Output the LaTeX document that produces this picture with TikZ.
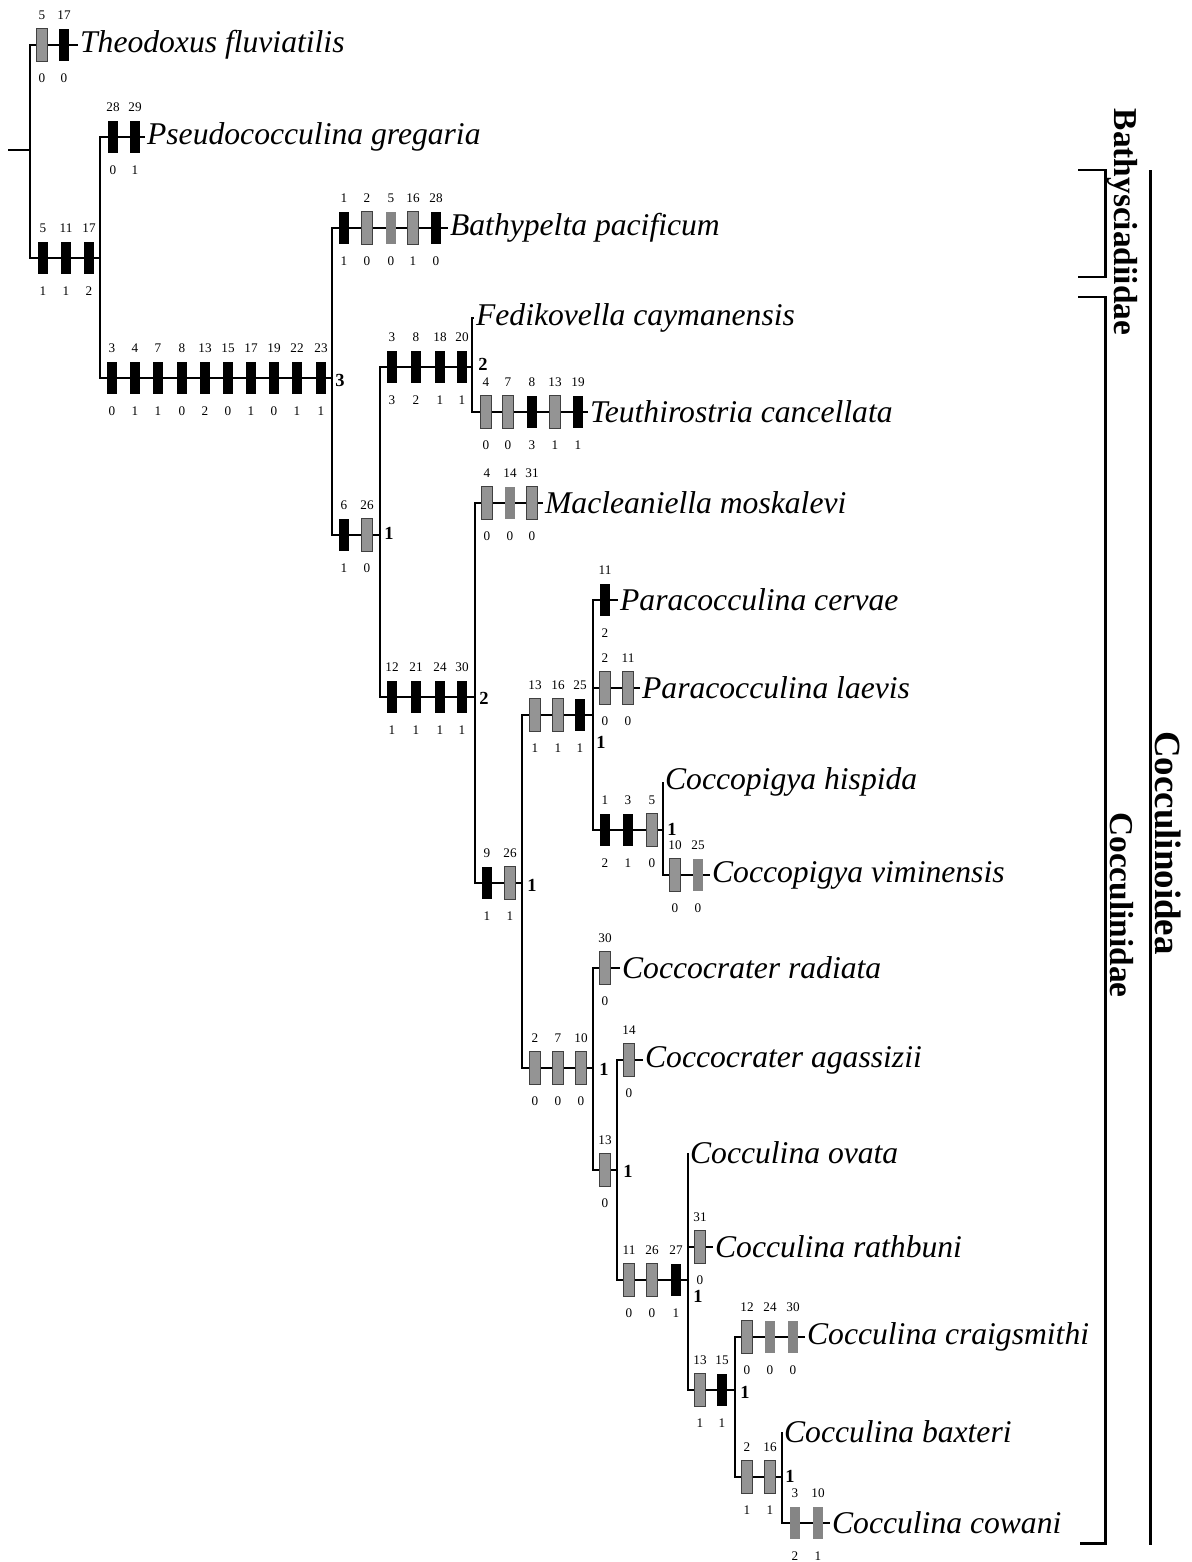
\documentclass[tikz,border=0pt]{standalone}
\usepackage{fontspec}
\setmainfont{Liberation Serif}
\tikzset{
  blk/.style={rectangle,fill=black,minimum width=5.8pt,minimum height=18.7pt,inner sep=0pt},
  gry/.style={blk,fill=black!42,draw=black!75,line width=0.5pt},
  pgry/.style={blk,fill=black!48},
  num/.style={font=\fontsize{7.5}{8}\selectfont,inner sep=0pt},
  taxon/.style={font=\fontsize{18}{20}\selectfont\itshape,anchor=west,inner sep=1pt},
  supp/.style={font=\fontsize{10.5}{12}\selectfont\bfseries,inner sep=0pt},
  grp/.style={font=\fontsize{19}{22}\selectfont\bfseries,rotate=-90,inner sep=0pt},
  br/.style={line width=0.8pt},
  brk/.style={line width=1.7pt}
}
% bars on a branch: name, y, list of x/above/below/style
\newcommand{\apom}[3]{%
  \foreach \x/\t/\b/\s [count=\i] in {#3} {
    \node[\s] (#1-\i) at (\x,#2) {};
    \node[num] (#1-\i t) at (\x,{#2-30}) {\t};
    \node[num] (#1-\i b) at (\x,{#2+33}) {\b};
  }}
\begin{document}
\begin{tikzpicture}[x=0.02cm,y=-0.02cm]
  \useasboundingbox (0,0) rectangle (1192,1562);
  % internal nodes
  \coordinate (root) at (8,150);
  \coordinate (n0) at (30,150);
  \coordinate (c1) at (100,258);
  \coordinate (c2) at (332,378);
  \coordinate (c3) at (380,535);
  \coordinate (c4) at (472,367);
  \coordinate (c5) at (475,697);
  \coordinate (c6) at (522,883);
  \coordinate (c7) at (593,715);
  \coordinate (c8) at (593,1068);
  \coordinate (c9) at (663,830);
  \coordinate (c10) at (617,1170);
  \coordinate (c11) at (688,1280);
  \coordinate (c12) at (735,1390);
  \coordinate (c13) at (782,1477);
  % taxa
  \node[taxon] (theo) at (78,45) {Theodoxus fluviatilis};
  \node[taxon] (pseu) at (145,137) {Pseudococculina gregaria};
  \node[taxon] (bath) at (448,228) {Bathypelta pacificum};
  \node[taxon] (fedi) at (474,318) {Fedikovella caymanensis};
  \node[taxon] (teut) at (588,412) {Teuthirostria cancellata};
  \node[taxon] (macl) at (543,503) {Macleaniella moskalevi};
  \node[taxon] (cerv) at (618,600) {Paracocculina cervae};
  \node[taxon] (laev) at (640,688) {Paracocculina laevis};
  \node[taxon] (hisp) at (663,782) {Coccopigya hispida};
  \node[taxon] (vimi) at (710,875) {Coccopigya viminensis};
  \node[taxon] (radi) at (620,968) {Coccocrater radiata};
  \node[taxon] (agas) at (643,1060) {Coccocrater agassizii};
  \node[taxon] (ovat) at (688,1153) {Cocculina ovata};
  \node[taxon] (rath) at (713,1247) {Cocculina rathbuni};
  \node[taxon] (crai) at (805,1337) {Cocculina craigsmithi};
  \node[taxon] (baxt) at (782,1432) {Cocculina baxteri};
  \node[taxon] (cowa) at (830,1523) {Cocculina cowani};
  % branches
  \draw[br] (root) -- (n0);
  \draw[br] (n0) |- (theo.west);
  \draw[br] (n0) |- (c1);
  \draw[br] (c1) |- (pseu.west);
  \draw[br] (c1) |- (c2);
  \draw[br] (c2) |- (bath.west);
  \draw[br] (c2) |- (c3);
  \draw[br] (c3) |- (c4);
  \draw[br] (c3) |- (c5);
  \draw[br] (c4) |- (fedi.west);
  \draw[br] (c4) |- (teut.west);
  \draw[br] (c5) |- (macl.west);
  \draw[br] (c5) |- (c6);
  \draw[br] (c6) |- (c7);
  \draw[br] (c6) |- (c8);
  \draw[br] (c7) |- (cerv.west);
  \draw[br] (c7) |- (laev.west);
  \draw[br] (c7) |- (c9);
  \draw[br] (c9) |- (hisp.west);
  \draw[br] (c9) |- (vimi.west);
  \draw[br] (c8) |- (radi.west);
  \draw[br] (c8) |- (c10);
  \draw[br] (c10) |- (agas.west);
  \draw[br] (c10) |- (c11);
  \draw[br] (c11) |- (ovat.west);
  \draw[br] (c11) |- (rath.west);
  \draw[br] (c11) |- (c12);
  \draw[br] (c12) |- (crai.west);
  \draw[br] (c12) |- (c13);
  \draw[br] (c13) |- (baxt.west);
  \draw[br] (c13) |- (cowa.west);
  % character changes
  \apom{theo}{45}{42/5/0/gry, 64/17/0/blk}
  \apom{b1}{258}{43/5/1/blk, 66/11/1/blk, 89/17/2/blk}
  \apom{pseu}{137}{113/28/0/blk, 135/29/1/blk}
  \apom{b2}{378}{112/3/0/blk, 135/4/1/blk, 158/7/1/blk, 182/8/0/blk, 205/13/2/blk,
    228/15/0/blk, 251/17/1/blk, 274/19/0/blk, 297/22/1/blk, 321/23/1/blk}
  \apom{bath}{228}{344/1/1/blk, 367/2/0/gry, 391/5/0/pgry, 413/16/1/gry, 436/28/0/blk}
  \apom{b3}{535}{344/6/1/blk, 367/26/0/gry}
  \apom{b4}{367}{392/3/3/blk, 416/8/2/blk, 440/18/1/blk, 462/20/1/blk}
  \apom{teut}{412}{486/4/0/gry, 508/7/0/gry, 532/8/3/blk, 555/13/1/gry, 578/19/1/blk}
  \apom{b5}{697}{392/12/1/blk, 416/21/1/blk, 440/24/1/blk, 462/30/1/blk}
  \apom{macl}{503}{487/4/0/gry, 510/14/0/pgry, 532/31/0/gry}
  \apom{b6}{883}{487/9/1/blk, 510/26/1/gry}
  \apom{b7}{715}{535/13/1/gry, 558/16/1/gry, 580/25/1/blk}
  \apom{cerv}{600}{605/11/2/blk}
  \apom{laev}{688}{605/2/0/gry, 628/11/0/gry}
  \apom{b9}{830}{605/1/2/blk, 628/3/1/blk, 652/5/0/gry}
  \apom{vimi}{875}{675/10/0/gry, 698/25/0/pgry}
  \apom{b8}{1068}{535/2/0/gry, 558/7/0/gry, 581/10/0/gry}
  \apom{radi}{968}{605/30/0/gry}
  \apom{b10}{1170}{605/13/0/gry}
  \apom{agas}{1060}{629/14/0/gry}
  \apom{b11}{1280}{629/11/0/gry, 652/26/0/gry, 676/27/1/blk}
  \apom{rath}{1247}{700/31/0/gry}
  \apom{b12}{1390}{700/13/1/gry, 722/15/1/blk}
  \apom{crai}{1337}{747/12/0/gry, 770/24/0/pgry, 793/30/0/pgry}
  \apom{b13}{1477}{747/2/1/gry, 770/16/1/gry}
  \apom{cowa}{1523}{795/3/2/pgry, 818/10/1/pgry}
  % support values
  \node[supp] (s2) at (340,380) {3};
  \node[supp] (s3) at (389,533) {1};
  \node[supp] (s4) at (483,364) {2};
  \node[supp] (s5) at (484,698) {2};
  \node[supp] (s6) at (532,885) {1};
  \node[supp] (s7) at (601,742) {1};
  \node[supp] (s9) at (672,829) {1};
  \node[supp] (s8) at (604,1069) {1};
  \node[supp] (s10) at (628,1171) {1};
  \node[supp] (s11) at (698,1296) {1};
  \node[supp] (s12) at (745,1392) {1};
  \node[supp] (s13) at (790,1476) {1};
  % groups
  \draw[brk] (1078,170) -- (1105,170) -- (1105,277) -- (1078,277);
  \draw[brk] (1078,297) -- (1105,297) -- (1105,1543) -- (1080,1543);
  \draw[brk] (1150,170) -- (1150,1545);
  \node[grp] (bathy) at (1122,222) {Bathysciadiidae};
  \node[grp] (cocc) at (1122,905) {Cocculinidae};
  \node[grp,font=\fontsize{21}{24}\selectfont\bfseries] (coccoid) at (1168,843) {Cocculinoidea};
\end{tikzpicture}
\end{document}
